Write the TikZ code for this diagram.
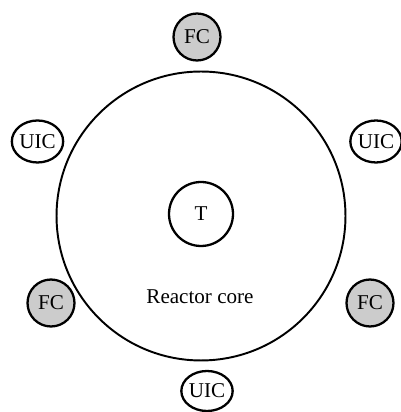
\documentclass[tikz,border=0pt]{standalone}
\usepackage{fontspec}
\setmainfont{Liberation Serif}
\usepackage{tikz}
\usetikzlibrary{shapes.geometric}

\begin{document}
\begin{tikzpicture}[x=0.02cm, y=0.02cm, every node/.style={font=\fontsize{12}{14}\selectfont, inner sep=0pt}, ring/.style={draw, circle, line width=1.1pt}, fc/.style={draw, circle, fill=gray!40, line width=1.3pt, minimum size=0.94cm}, uic/.style={draw, ellipse, line width=1.3pt, minimum width=0.96cm, minimum height=0.84cm}]
\useasboundingbox (0,0) rectangle (401,412);
\node[ring, minimum size=5.78cm] (core) at (201,196) {};
\node[ring, line width=1.3pt, minimum size=1.28cm] (temp) at (201,198) {T};
\node (lbl) at (200,115) {Reactor core};
\node[fc] (fctop) at (197,375) {FC};
\node[fc] (fcleft) at (51,109) {FC};
\node[fc] (fcright) at (370,109) {FC};
\node[uic] (uicleft) at (37.5,270.5) {UIC};
\node[uic] (uicright) at (376,270.5) {UIC};
\node[uic, minimum width=1.02cm, minimum height=0.8cm] (uicbot) at (207,21) {UIC};
\end{tikzpicture}
\end{document}
